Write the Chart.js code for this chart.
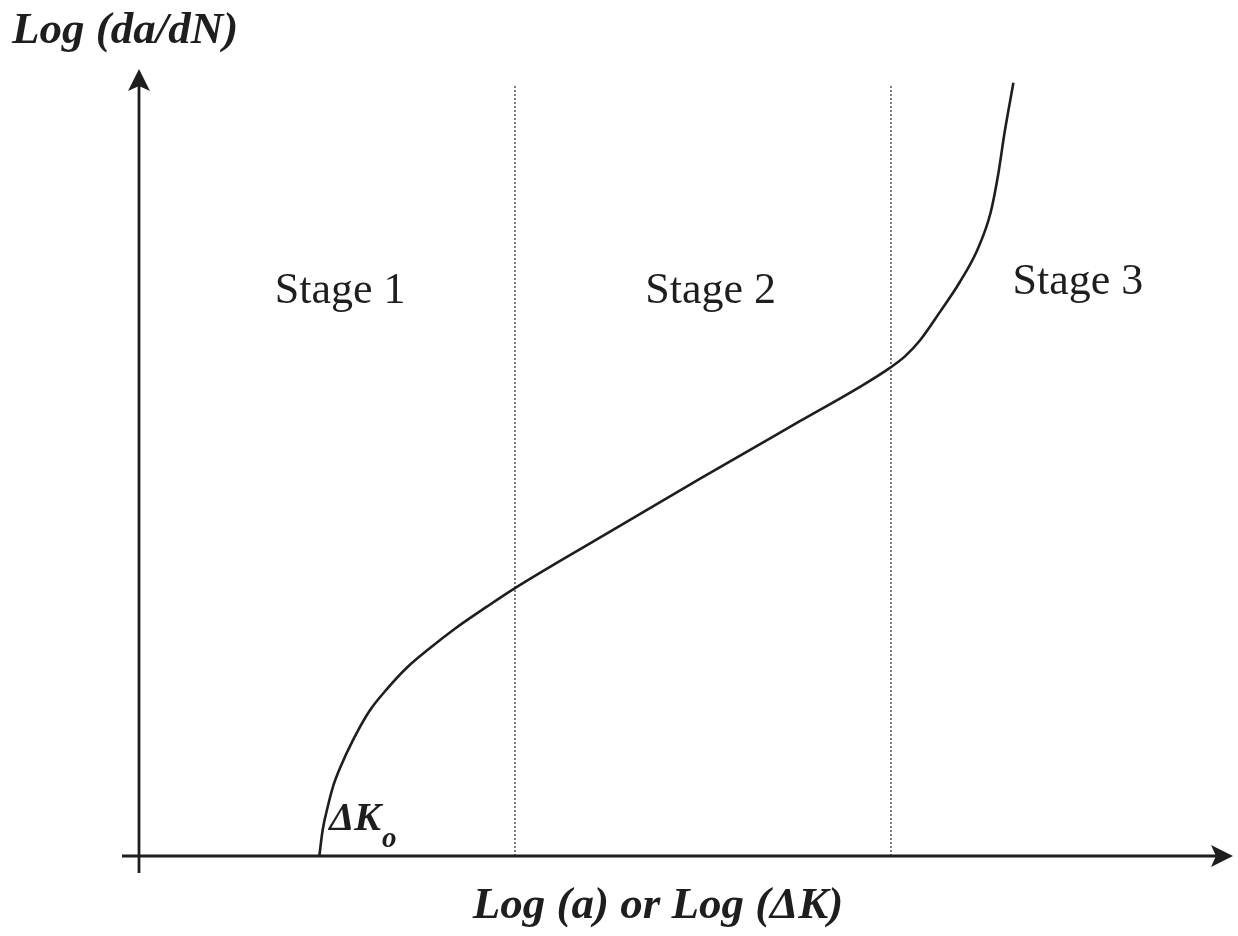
<!DOCTYPE html>
<html>
<head>
<meta charset="utf-8">
<script src="https://cdn.jsdelivr.net/npm/chart.js@4.4.1/dist/chart.umd.min.js"></script>
<style>
  html, body { margin: 0; padding: 0; background: #fff; }
  #chart { display: block; }
</style>
</head>
<body>
<canvas id="chart" width="1238" height="936"></canvas>
<script>
// crack growth curve (arbitrary log units, 0..100)
const curveX = [16.5, 16.8, 17.3, 17.8, 18.4, 19.6, 21.1, 22.7, 24.5, 26.6, 28.9, 31.8, 34.4, 42.2, 51.3, 60.5, 66.0, 68.7, 70.1, 71.5, 73.3, 75.1, 76.7, 77.9, 78.6, 79.2, 80.0];
const curveY = [0, 3.3, 6.5, 9.1, 11.3, 14.9, 18.6, 21.4, 24.1, 26.6, 29.1, 31.9, 34.3, 40.8, 48.3, 55.7, 60.1, 62.5, 64.0, 66.1, 69.7, 73.5, 77.6, 82.3, 87.2, 92.7, 99.0];

// stage boundaries
const boundaryX = [34.4, 68.8];
const boundaryTop = 98.7;

const stageLabels = ["Stage 1", "Stage 2", "Stage 3"];
const stageX = [18.4, 52.3, 85.9];
const stageY = [70.8, 70.8, 72.0];

const xTitle = "Log (a) or Log (\u0394K)";
const yTitle = "Log (da/dN)";

const ink = "#1e1e1e";
const serif = "'Liberation Serif', 'DejaVu Serif', serif";

const datasets = [
  {
    label: "curve",
    data: curveX.map((x, i) => ({ x, y: curveY[i] })),
    borderColor: ink,
    borderWidth: 2.6,
    pointRadius: 0,
    cubicInterpolationMode: "monotone",
    fill: false,
  },
];

boundaryX.forEach((x) => {
  datasets.push({
    label: "boundary",
    data: [{ x, y: 0 }, { x, y: boundaryTop }],
    borderColor: "#555",
    borderWidth: 1.5,
    borderDash: [2, 2],
    pointRadius: 0,
    fill: false,
  });
});

function arrowHead(ctx, x, y, dir) {
  // dir: "up" or "right"
  ctx.beginPath();
  if (dir === "up") {
    ctx.moveTo(x, y);
    ctx.lineTo(x - 11, y + 22);
    ctx.lineTo(x, y + 17);
    ctx.lineTo(x + 11, y + 22);
  } else {
    ctx.moveTo(x, y);
    ctx.lineTo(x - 22, y - 11);
    ctx.lineTo(x - 17, y);
    ctx.lineTo(x - 22, y + 11);
  }
  ctx.closePath();
  ctx.fill();
}

const axesPlugin = {
  id: "arrowAxes",
  afterDatasetsDraw(chart) {
    const { ctx, scales } = chart;
    const x0 = scales.x.getPixelForValue(0);
    const y0 = scales.y.getPixelForValue(0);
    const xEnd = scales.x.getPixelForValue(100) + 1;
    const yEnd = scales.y.getPixelForValue(100) - 6;

    ctx.save();
    ctx.strokeStyle = ink;
    ctx.fillStyle = ink;
    ctx.lineWidth = 2.8;

    ctx.beginPath();
    ctx.moveTo(x0, y0 + 17);
    ctx.lineTo(x0, yEnd + 10);
    ctx.moveTo(x0 - 17, y0);
    ctx.lineTo(xEnd - 10, y0);
    ctx.stroke();
    arrowHead(ctx, x0, yEnd, "up");
    arrowHead(ctx, xEnd, y0, "right");

    // stage labels
    ctx.font = `44px ${serif}`;
    ctx.textAlign = "center";
    ctx.textBaseline = "alphabetic";
    stageLabels.forEach((label, i) => {
      ctx.fillText(label, scales.x.getPixelForValue(stageX[i]), scales.y.getPixelForValue(stageY[i]));
    });

    // threshold label
    ctx.textAlign = "left";
    ctx.font = `bold italic 40px ${serif}`;
    const kx = scales.x.getPixelForValue(17.4);
    const ky = scales.y.getPixelForValue(3.3);
    ctx.fillText("\u0394K", kx, ky);
    const kw = ctx.measureText("\u0394K").width;
    ctx.font = `bold italic 29px ${serif}`;
    ctx.fillText("o", kx + kw + 1, ky + 17);

    // axis titles
    ctx.font = `bold italic 45px ${serif}`;
    ctx.textAlign = "left";
    ctx.fillText(yTitle, 12, 43);
    ctx.textAlign = "center";
    ctx.fillText(xTitle, 658, 918);
    ctx.restore();
  },
};

new Chart(document.getElementById("chart").getContext("2d"), {
  type: "line",
  data: { datasets },
  options: {
    responsive: false,
    animation: false,
    layout: { padding: { left: 139, right: 6, top: 75, bottom: 80 } },
    plugins: { legend: { display: false }, tooltip: { enabled: false } },
    scales: {
      x: { type: "linear", min: 0, max: 100, display: false },
      y: { type: "linear", min: 0, max: 100, display: false },
    },
  },
  plugins: [axesPlugin],
});
</script>
</body>
</html>
